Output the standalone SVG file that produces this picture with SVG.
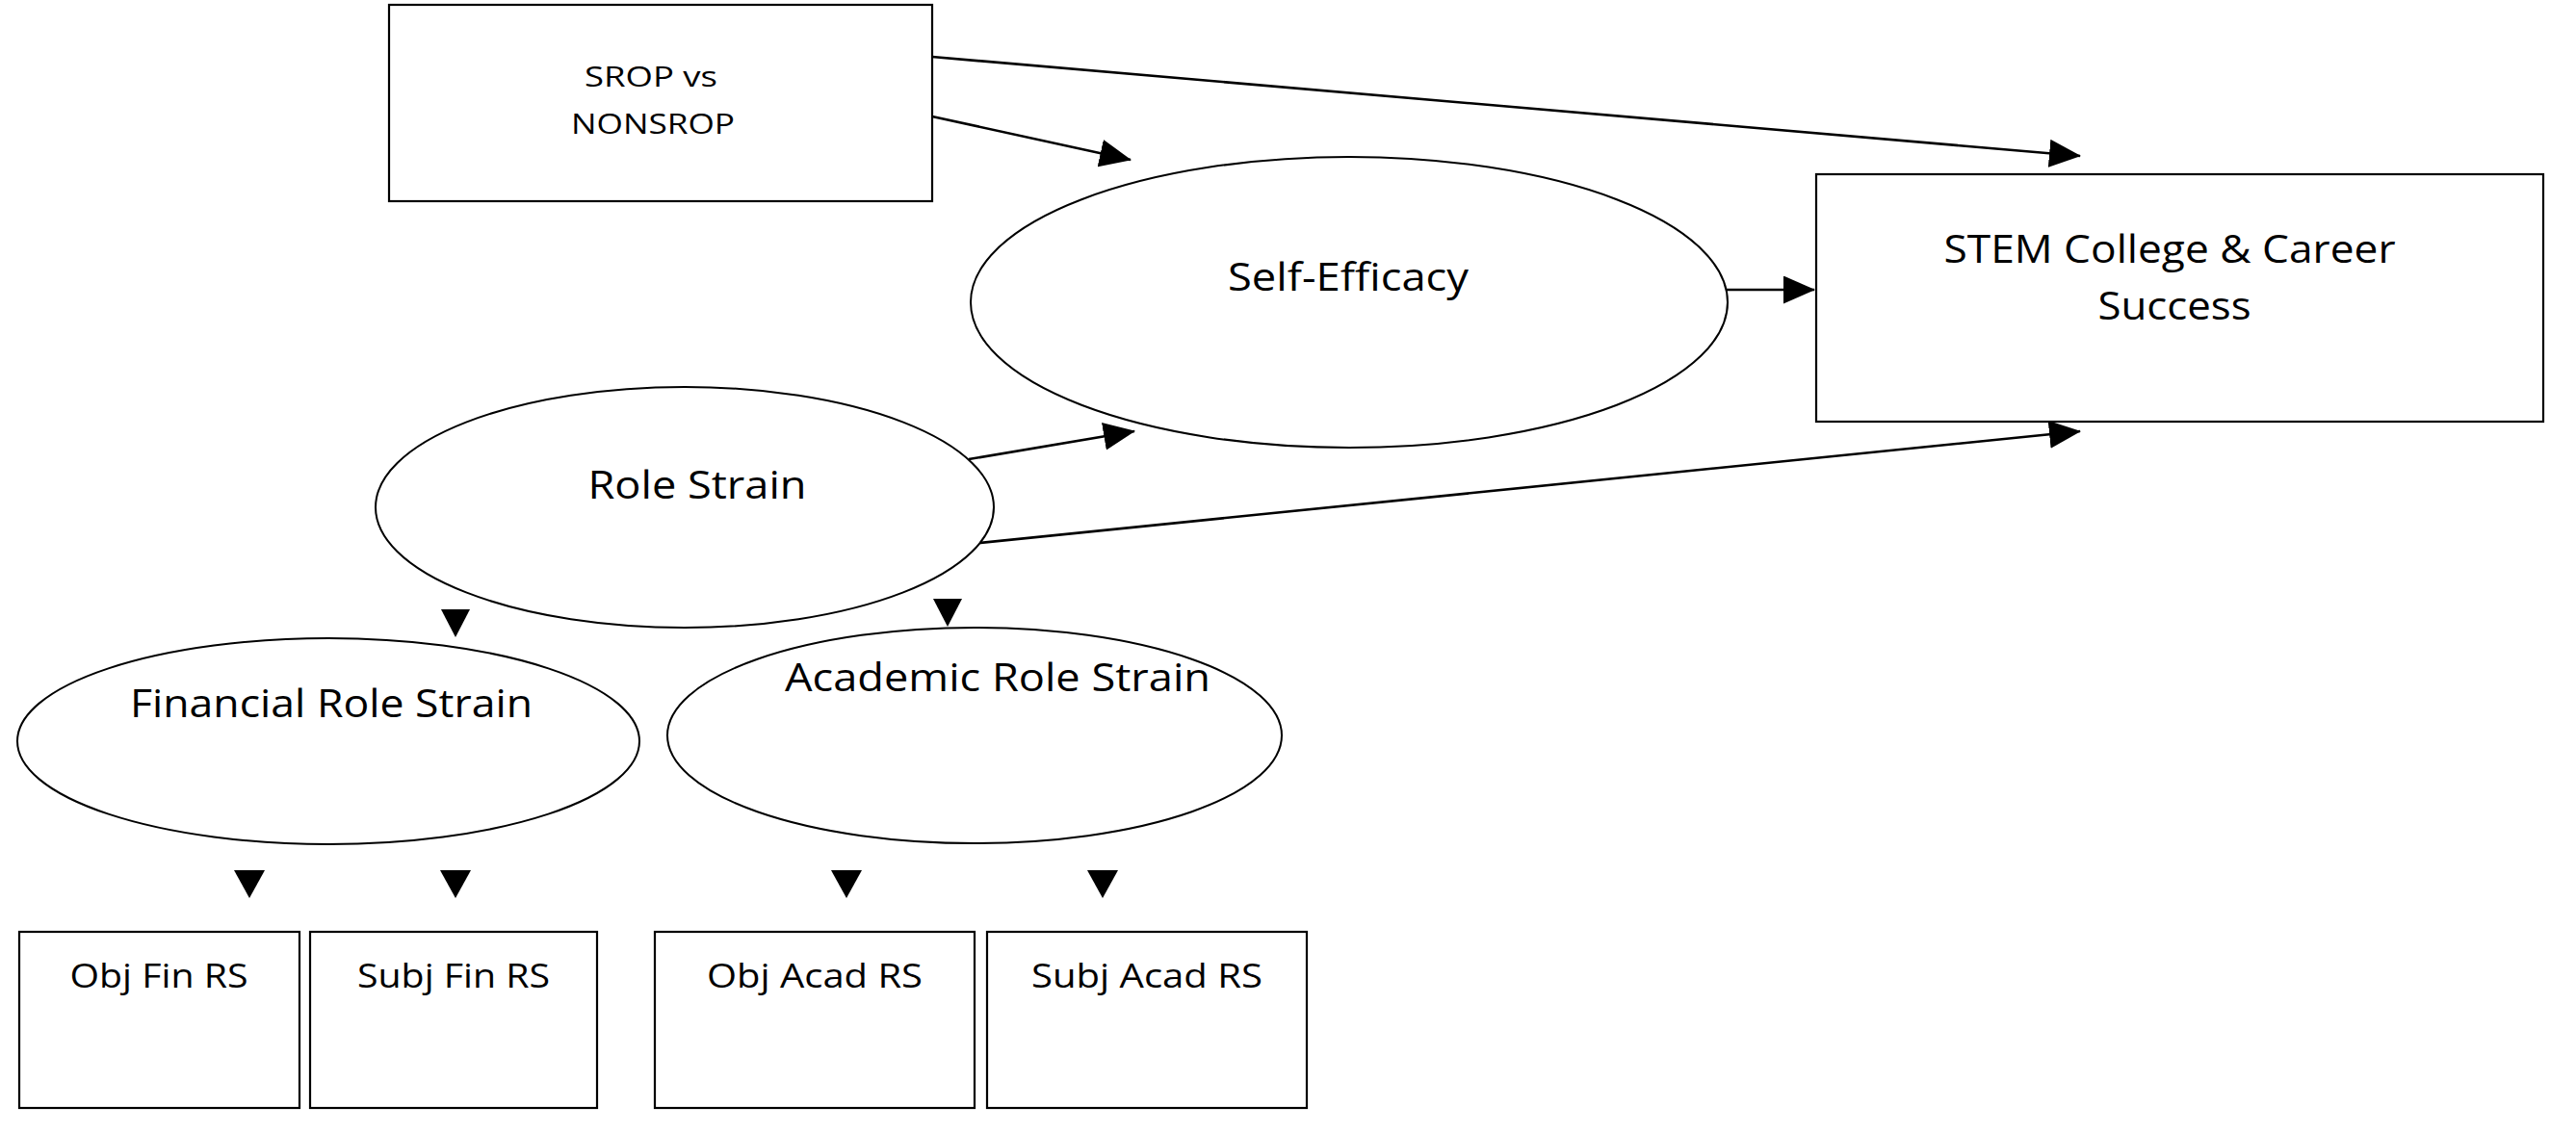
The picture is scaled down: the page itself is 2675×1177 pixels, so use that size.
<svg xmlns="http://www.w3.org/2000/svg" width="2675" height="1177" viewBox="0 0 2675 1177">
<style>
.box{fill:#fff;stroke:#000;stroke-width:2.2}
.ell{fill:#fff;stroke:#000;stroke-width:2}
.t{font-family:"Open Sans","Liberation Sans",sans-serif;fill:#000;text-anchor:middle}
.ln{stroke:#000;stroke-width:2.6;fill:none;marker-end:url(#ah)}
.tri{fill:#000}
</style>
<defs>
<marker id="ah" markerUnits="userSpaceOnUse" markerWidth="34" markerHeight="30" refX="32" refY="14.5" orient="auto" viewBox="0 0 34 30">
<path d="M0,0 L33,14.5 L0,29 z" fill="#000"/>
</marker>
</defs>
<rect width="2675" height="1177" fill="#fff"/>
<g id="connectors">
<line class="ln" x1="968" y1="59" x2="2160" y2="162"/>
<line class="ln" x1="968" y1="121" x2="1174" y2="166"/>
<line class="ln" x1="1785" y1="301" x2="1884" y2="301"/>
<line class="ln" x1="1006" y1="477" x2="1178" y2="448"/>
<line class="ln" x1="1007" y1="565" x2="2160" y2="448"/>
<polygon class="tri" points="458,633 488,633 473,662"/>
<polygon class="tri" points="969,622 999,622 984,651"/>
<polygon class="tri" points="243,904 275,904 259,933"/>
<polygon class="tri" points="457,904 489,904 473,933"/>
<polygon class="tri" points="863,904 895,904 879,933"/>
<polygon class="tri" points="1129,904 1161,904 1145,933"/>
</g>
<g id="srop">
<rect class="box" x="404" y="5" width="564" height="204"/>
<text class="t" x="676" y="90" font-size="30" textLength="138" lengthAdjust="spacingAndGlyphs">SROP vs</text>
<text class="t" x="678" y="139" font-size="30" textLength="170" lengthAdjust="spacingAndGlyphs">NONSROP</text>
</g>
<g id="self-efficacy">
<ellipse class="ell" cx="1401" cy="314" rx="393" ry="151"/>
<text class="t" x="1400" y="302" font-size="40" textLength="250" lengthAdjust="spacingAndGlyphs">Self-Efficacy</text>
</g>
<g id="stem">
<rect class="box" x="1886" y="181" width="755" height="257"/>
<text class="t" x="2253" y="273" font-size="41" textLength="469" lengthAdjust="spacingAndGlyphs">STEM College &amp; Career</text>
<text class="t" x="2258" y="332" font-size="41" textLength="159" lengthAdjust="spacingAndGlyphs">Success</text>
</g>
<g id="role-strain">
<ellipse class="ell" cx="711" cy="527" rx="321" ry="125"/>
<text class="t" x="724" y="518" font-size="40" textLength="227" lengthAdjust="spacingAndGlyphs">Role Strain</text>
</g>
<g id="financial-role-strain">
<ellipse class="ell" cx="341" cy="770" rx="323" ry="107"/>
<text class="t" x="344" y="745" font-size="41" textLength="418" lengthAdjust="spacingAndGlyphs">Financial Role Strain</text>
</g>
<g id="academic-role-strain">
<ellipse class="ell" cx="1012" cy="764" rx="319" ry="112"/>
<text class="t" x="1036" y="718" font-size="41" textLength="442" lengthAdjust="spacingAndGlyphs">Academic Role Strain</text>
</g>
<g id="obj-fin-rs">
<rect class="box" x="20" y="968" width="291" height="183"/>
<text class="t" x="165" y="1026" font-size="34" textLength="185" lengthAdjust="spacingAndGlyphs">Obj Fin RS</text>
</g>
<g id="subj-fin-rs">
<rect class="box" x="322" y="968" width="298" height="183"/>
<text class="t" x="471" y="1026" font-size="34" textLength="200" lengthAdjust="spacingAndGlyphs">Subj Fin RS</text>
</g>
<g id="obj-acad-rs">
<rect class="box" x="680" y="968" width="332" height="183"/>
<text class="t" x="846" y="1026" font-size="34" textLength="224" lengthAdjust="spacingAndGlyphs">Obj Acad RS</text>
</g>
<g id="subj-acad-rs">
<rect class="box" x="1025" y="968" width="332" height="183"/>
<text class="t" x="1191" y="1026" font-size="34" textLength="240" lengthAdjust="spacingAndGlyphs">Subj Acad RS</text>
</g>
</svg>
